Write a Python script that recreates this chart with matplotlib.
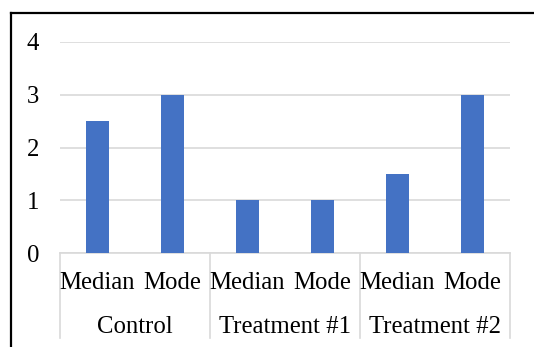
import matplotlib
matplotlib.use("Agg")
import matplotlib.pyplot as plt
from matplotlib.lines import Line2D

# Data
groups = ["Control", "Treatment #1", "Treatment #2"]
stats = ["Median", "Mode"]
values = [2.5, 3, 1, 1, 1.5, 3]
y_ticks = [0, 1, 2, 3, 4]

plt.rcParams["font.family"] = ["Liberation Serif", "DejaVu Serif"]
FS = 17.8
GRID = "#d9d9d9"
BAR = "#4472c4"

W, H = 534, 347
fig = plt.figure(figsize=(W / 100, H / 100), dpi=100)
fig.patch.set_facecolor("white")

left, right, top, bottom = 60, 510, 42, 253
ax = fig.add_axes([left / W, 1 - bottom / H, (right - left) / W, (bottom - top) / H])

n = len(groups) * len(stats)
xs = [i + 0.5 for i in range(n)]
ax.bar(xs, values, width=0.315, color=BAR, zorder=3)

ax.set_xlim(0, n)
ax.set_ylim(0, 4)
ax.set_yticks(y_ticks)
ax.set_yticklabels([str(t) for t in y_ticks], fontsize=FS)
ax.tick_params(axis="y", length=0, pad=15)
ax.set_xticks([])
ax.grid(axis="y", color=GRID, linewidth=1.2, zorder=0)
for s in ["top", "right", "left"]:
    ax.spines[s].set_visible(False)
ax.spines["bottom"].set_color(GRID)
ax.spines["bottom"].set_linewidth(1.2)

tr = ax.get_xaxis_transform()
# Inner level: statistic names
for i, x in enumerate(xs):
    ax.text(x, -0.143, stats[i % len(stats)], transform=tr, ha="center",
            va="center", fontsize=FS)
# Outer level: group names
for g, name in enumerate(groups):
    cx = g * len(stats) + len(stats) / 2
    ax.text(cx, -0.349, name, transform=tr, ha="center", va="center", fontsize=FS)
# Group separators
for g in range(len(groups) + 1):
    x = g * len(stats)
    ax.add_line(Line2D([x, x], [0, -0.405], transform=tr, color=GRID,
                       linewidth=1.2, clip_on=False))

# Chart frame (left and top edges)
fig.add_artist(Line2D([10.5 / W, 10.5 / W], [-0.01, 1 - 12.8 / H],
                      transform=fig.transFigure, color="black", linewidth=1.6,
                      solid_capstyle="projecting"))
fig.add_artist(Line2D([10.5 / W, 1.01], [1 - 12.8 / H, 1 - 12.8 / H],
                      transform=fig.transFigure, color="black", linewidth=1.6,
                      solid_capstyle="projecting"))

fig.savefig("out.png", dpi=100)
